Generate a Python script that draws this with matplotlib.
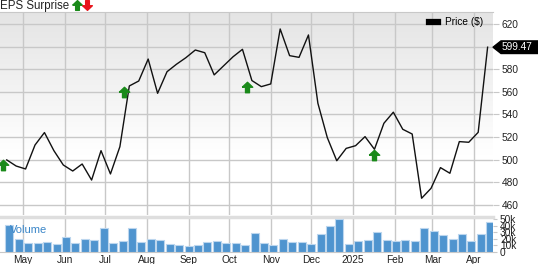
import matplotlib
matplotlib.use('Agg')
import matplotlib.pyplot as plt
from matplotlib.path import Path
from matplotlib.patches import Polygon
from matplotlib.lines import Line2D
import matplotlib.transforms as mtransforms
import numpy as np
import pandas as pd

plt.rcParams['font.family'] = ['Liberation Sans', 'DejaVu Sans']

# weekly data, Apr 2024 - Apr 2025
dates = pd.date_range('2024-04-19', periods=52, freq='7D')
price = [499.8, 494.4, 491.8, 513.0, 524.0, 508.0, 495.3, 490.0, 496.2, 482.0,
         508.0, 487.4, 511.5, 565.2, 569.6, 589.0, 558.7, 577.8, 584.4, 590.2,
         597.0, 594.6, 575.0, 583.0, 591.0, 597.6, 570.0, 564.6, 567.0, 615.6,
         592.0, 590.5, 610.3, 549.9, 519.5, 499.1, 510.0, 512.4, 520.4, 509.2,
         532.2, 542.0, 526.9, 522.7, 465.9, 474.7, 493.0, 488.0, 516.0, 515.4,
         524.2, 599.47]
volume_k = [40.4, 19.2, 14.1, 14.1, 15.2, 12.6, 22.2, 14.1, 20.2, 18.2,
            36.4, 13.1, 16.7, 36.9, 15.2, 20.2, 18.2, 12.1, 10.6, 9.6,
            11.1, 15.2, 17.2, 13.6, 14.1, 10.6, 28.3, 13.1, 11.1, 20.2,
            15.2, 15.2, 11.6, 27.8, 39.4, 49.5, 12.6, 16.2, 17.7, 30.3,
            17.7, 16.7, 18.7, 16.2, 36.4, 31.3, 26.3, 20.2, 27.8, 16.2,
            27.8, 45.5]
# EPS beats: (date, price level of arrow)
eps_dates = pd.to_datetime(['2024-04-16', '2024-07-15', '2024-10-14', '2025-01-17'])
eps_level = [495.3, 560.1, 564.0, 504.2]

price_ticks = [460, 480, 500, 520, 540, 560, 580, 600, 620]
price_labels = ['460', '480', '500', '520', '540', '560', '580', '', '620']
vol_ticks = [0, 10, 20, 30, 40, 50]
vol_labels = ['0', '10k', '20k', '30k', '40k', '50k']

W, H = 538, 264
fig = plt.figure(figsize=(W / 100, H / 100), dpi=100)
fs = 7.3
grid_c = '#c8c8c8'

ax = fig.add_axes([0, 1 - 215 / H, 493 / W, (215 - 12) / H])
axv = fig.add_axes([0, 1 - 252 / H, 493 / W, (252 - 217) / H], sharex=ax)

xlim = (dates[0] - pd.Timedelta(days=5), dates[-1] + pd.Timedelta(days=4))
ax.set_xlim(xlim)
ax.set_ylim(451.1, 630.6)

# gradient background
grad = np.linspace(0, 1, 256).reshape(-1, 1)
grad = np.clip(grad / 0.7, 0, 1)
top, bot = np.array([0.895, 0.895, 0.895]), np.array([1.0, 1.0, 1.0])
img = top + (bot - top) * grad[..., None]
ax.imshow(img, extent=[0, 1, 0, 1], transform=ax.transAxes, aspect='auto',
          zorder=0, origin='upper')

ax.plot(dates, price, color='#111111', lw=1.0, zorder=3)

# arrow marker
arrow_up = Path([(-1, 0.05), (0, 1), (1, 0.05), (0.38, 0.05), (0.38, -1),
                 (-0.38, -1), (-0.38, 0.05), (-1, 0.05)])
arrow_dn = Path([(x, -y) for x, y in arrow_up.vertices])
ax.plot(eps_dates, eps_level, ls='none', marker=arrow_up, ms=7.5,
        color='#1a8a1a', mec='#1a8a1a', zorder=4, clip_on=False)

ax.set_yticks(price_ticks)
ax.set_yticklabels(price_labels)
ax.yaxis.tick_right()
ax.tick_params(axis='y', length=4, color=grid_c, pad=2, labelsize=fs, labelcolor='#222222')
ax.tick_params(axis='x', length=0, labelbottom=False)
ax.grid(True, color=grid_c, lw=1)
for s in ax.spines.values():
    s.set_visible(False)
ax.spines['top'].set_visible(True)
ax.spines['top'].set_color(grid_c)

month_locs = pd.date_range('2024-05-01', '2025-04-01', freq='MS')
month_lbls = [d.strftime('%b') if d.month != 1 else str(d.year) for d in month_locs]
ax.set_xticks(month_locs)

leg = ax.legend([Line2D([], [], color='black', lw=4.5)], ['Price ($)'],
                loc='upper right', bbox_to_anchor=(0.979, 0.975), frameon=False,
                fontsize=fs, handlelength=0.9, handletextpad=0.6,
                borderpad=0, borderaxespad=0)

# last price tag
last = price[-1]
trans = mtransforms.blended_transform_factory(ax.transAxes, ax.transData)
hh = 6.3 / 1.131
x1, x2 = 1 + 8 / 493, 1 + 45 / 493
tag = Polygon([(1.0, last), (x1, last + hh), (x2, last + hh), (x2, last - hh),
               (x1, last - hh)], closed=True, transform=trans, color='black',
              clip_on=False, zorder=5)
ax.add_patch(tag)
ax.text(1 + 9 / 493, last, '%.2f' % last, transform=trans, color='white',
        fontsize=fs, va='center', ha='left', zorder=6, clip_on=False)

# volume panel
axv.bar(dates - pd.Timedelta(days=1), volume_k, width=6, align='edge',
        color='#4f94cf', edgecolor='#bcd6ee', lw=0.8, zorder=3)
axv.set_ylim(0, 53)
axv.set_yticks(vol_ticks)
axv.set_yticklabels(vol_labels)
axv.yaxis.tick_right()
axv.tick_params(axis='y', length=3, color=grid_c, pad=2, labelsize=fs, labelcolor='#222222')
axv.set_xticks(month_locs)
axv.set_xticklabels(month_lbls)
axv.tick_params(axis='x', length=0, pad=2.5, labelsize=fs, labelcolor='#222222')
axv.grid(True, axis='x', color=grid_c, lw=1)
axv.set_facecolor('white')
for s in axv.spines.values():
    s.set_visible(False)
axv.spines['top'].set_visible(True)
axv.spines['top'].set_color('#dedede')
axv.spines['top'].set_linewidth(2.5)
axv.spines['bottom'].set_visible(True)
axv.spines['bottom'].set_color(grid_c)
axv.text(10 / 493, 0.62, 'Volume', transform=axv.transAxes, color='#3a86c8',
         fontsize=8, va='center', ha='left', zorder=5)

# header
fig.text(0.0, 1 - 9.3 / H, 'EPS Surprise', fontsize=8.3, va='baseline', ha='left',
         color='#222222')
fig.add_artist(Line2D([77 / W], [1 - 5 / H], marker=arrow_up, ms=7, color='#1a8a1a',
                      ls='none', transform=fig.transFigure))
fig.add_artist(Line2D([87 / W], [1 - 5 / H], marker=arrow_dn, ms=7, color='#e8141c',
                      ls='none', transform=fig.transFigure))

fig.savefig('out.png', dpi=100)
